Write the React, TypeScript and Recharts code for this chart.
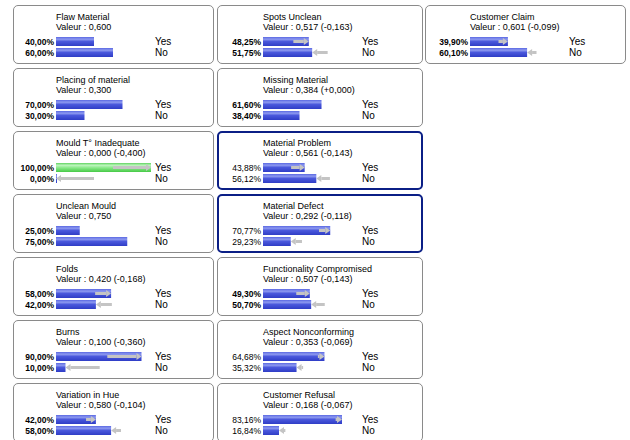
import { BarChart, Bar, XAxis, YAxis, Cell } from 'recharts'

// one entry per network node, column by column
const NODE_NAMES = [
  'Flaw Material', 'Placing of material', 'Mould T° Inadequate', 'Unclean Mould', 'Folds', 'Burns', 'Variation in Hue',
  'Spots Unclean', 'Missing Material', 'Material Problem', 'Material Defect', 'Functionality Compromised',
  'Aspect Nonconforming', 'Customer Refusal',
  'Customer Claim',
]
const STATES = ['Yes', 'No']
const YES_PCT = [40, 70, 100, 25, 58, 90, 42, 48.25, 61.6, 43.88, 70.77, 49.3, 64.68, 83.16, 39.9]
const NO_PCT = [60, 30, 0, 75, 42, 10, 58, 51.75, 38.4, 56.12, 29.23, 50.7, 35.32, 16.84, 60.1]
const VALEUR = [0.6, 0.3, 0, 0.75, 0.42, 0.1, 0.58, 0.517, 0.384, 0.561, 0.292, 0.507, 0.353, 0.168, 0.601]
const CHANGE: (number | null)[] = [null, null, -0.4, null, -0.168, -0.36, -0.104, -0.163, 0, -0.143, -0.118, -0.143, -0.069, -0.067, -0.099]
const BOLD_NODES = [0, 1, 2, 3, 4, 5, 6, 7, 8, 11, 14]
const HARD_EVIDENCE: Record<number, string> = { 2: 'Yes' }
const SELECTED_NODES = [9, 10]

// layout
const COLUMNS = [[0, 1, 2, 3, 4, 5, 6], [7, 8, 9, 10, 11, 12, 13], [14]]
const COL_X = [13, 217, 425]
const COL_W = [201, 206, 201]
const COL_LABEL_W = [43, 46, 45]
const ROW_Y0 = 5
const ROW_STEP = 63
const CARD_H = 59
const BAR_W = 95

const fmt = (v: number, d: number) => v.toFixed(d).replace('.', ',')

function Arrow(props: any) {
  const { x, y, width, height, payload } = props
  if (!width || width < 1) return null
  const cy = y + height / 2
  const head = Math.min(5, width)
  const x1 = x + width
  const c = '#c4c4c4'
  if (payload.right) {
    return (
      <g>
        <rect x={x} y={cy - 1.5} width={Math.max(0, width - head)} height={3} fill={c} />
        <polygon points={`${x1 - head},${cy - 3.5} ${x1},${cy} ${x1 - head},${cy + 3.5}`} fill={c} />
      </g>
    )
  }
  return (
    <g>
      <rect x={x + head} y={cy - 1.5} width={Math.max(0, width - head)} height={3} fill={c} />
      <polygon points={`${x + head},${cy - 3.5} ${x},${cy} ${x + head},${cy + 3.5}`} fill={c} />
    </g>
  )
}

function NodeCard({ i, left, top, width, labelW }: { i: number; left: number; top: number; width: number; labelW: number }) {
  const ch = CHANGE[i]
  const prevNo = ch == null ? NO_PCT[i] : NO_PCT[i] - ch * 100
  const data = STATES.map((s, k) => {
    const cur = k === 0 ? YES_PCT[i] : NO_PCT[i]
    const prev = k === 0 ? 100 - prevNo : prevNo
    return {
      state: s,
      label: fmt(cur, 2) + '%',
      pct: cur,
      move: [Math.min(prev, cur), Math.max(prev, cur)],
      right: prev < cur,
      green: HARD_EVIDENCE[i] === s,
    }
  })
  const selected = SELECTED_NODES.includes(i)
  const bold = BOLD_NODES.includes(i)
  const bw = selected ? 2 : 1
  const axisW = labelW - bw
  const valeur = 'Valeur : ' + fmt(VALEUR[i], 3) + (ch == null ? '' : ` (${ch < 0 ? '-' : '+'}${fmt(Math.abs(ch), 3)})`)
  const textStyle = { position: 'absolute' as const, left: labelW - bw, fontSize: 9, lineHeight: '9.5px', whiteSpace: 'nowrap' as const }

  return (
    <div style={{
      position: 'absolute', left, top, width, height: CARD_H, boxSizing: 'border-box',
      border: `${bw}px solid ${selected ? '#0b1f86' : '#8a8a8a'}`, borderRadius: 5, background: '#fff',
    }}>
      <div style={{ ...textStyle, top: 8 - bw }}>{NODE_NAMES[i]}</div>
      <div style={{ ...textStyle, top: 17.5 - bw }}>{valeur}</div>
      <div style={{ position: 'absolute', left: 0, top: 30 - bw }}>
        <BarChart layout="vertical" width={axisW + BAR_W + 45} height={24} data={data}
          margin={{ top: 1, right: 0, bottom: 1, left: 0 }} barGap={-9}>
          <defs>
            <linearGradient id={`blue-${i}`} x1="0" y1="0" x2="0" y2="1">
              <stop offset="0%" stopColor="#5a68e2" />
              <stop offset="25%" stopColor="#8d99f0" />
              <stop offset="50%" stopColor="#4a58dc" />
              <stop offset="100%" stopColor="#2f3dc6" />
            </linearGradient>
            <linearGradient id={`green-${i}`} x1="0" y1="0" x2="0" y2="1">
              <stop offset="0%" stopColor="#5fd35f" />
              <stop offset="25%" stopColor="#bdf5bd" />
              <stop offset="55%" stopColor="#86e886" />
              <stop offset="100%" stopColor="#46c946" />
            </linearGradient>
          </defs>
          <XAxis type="number" domain={[0, 100]} tick={false} tickLine={false} height={0}
            axisLine={{ stroke: '#9a9a9a' }} />
          <YAxis yAxisId="pct" type="category" dataKey="label" orientation="left" width={axisW}
            axisLine={false} tickLine={false} tickSize={0} tickMargin={2} interval={0}
            tick={{ fontSize: 8.5, fontWeight: bold ? 700 : 400, fill: '#000' }} />
          <YAxis yAxisId="state" type="category" dataKey="state" orientation="right" width={45}
            axisLine={false} tickLine={false} tickSize={0} tickMargin={4} interval={0}
            tick={{ fontSize: 10, fill: '#000' }} />
          <Bar yAxisId="pct" dataKey="pct" barSize={9} minPointSize={1} isAnimationActive={false}>
            {data.map(d => (
              <Cell key={d.state} fill={d.green ? `url(#green-${i})` : `url(#blue-${i})`} />
            ))}
          </Bar>
          <Bar yAxisId="pct" dataKey="move" barSize={9} shape={Arrow} isAnimationActive={false} />
        </BarChart>
      </div>
    </div>
  )
}

export default function App() {
  return (
    <div style={{
      position: 'absolute', left: 0, top: 0, width: 630, height: 440, overflow: 'hidden',
      background: '#fff', fontFamily: '"Liberation Sans", Arial, sans-serif', color: '#000',
    }}>
      {COLUMNS.map((nodes, c) => nodes.map((i, r) => (
        <NodeCard key={i} i={i} left={COL_X[c]} top={ROW_Y0 + r * ROW_STEP} width={COL_W[c]} labelW={COL_LABEL_W[c]} />
      )))}
    </div>
  )
}
